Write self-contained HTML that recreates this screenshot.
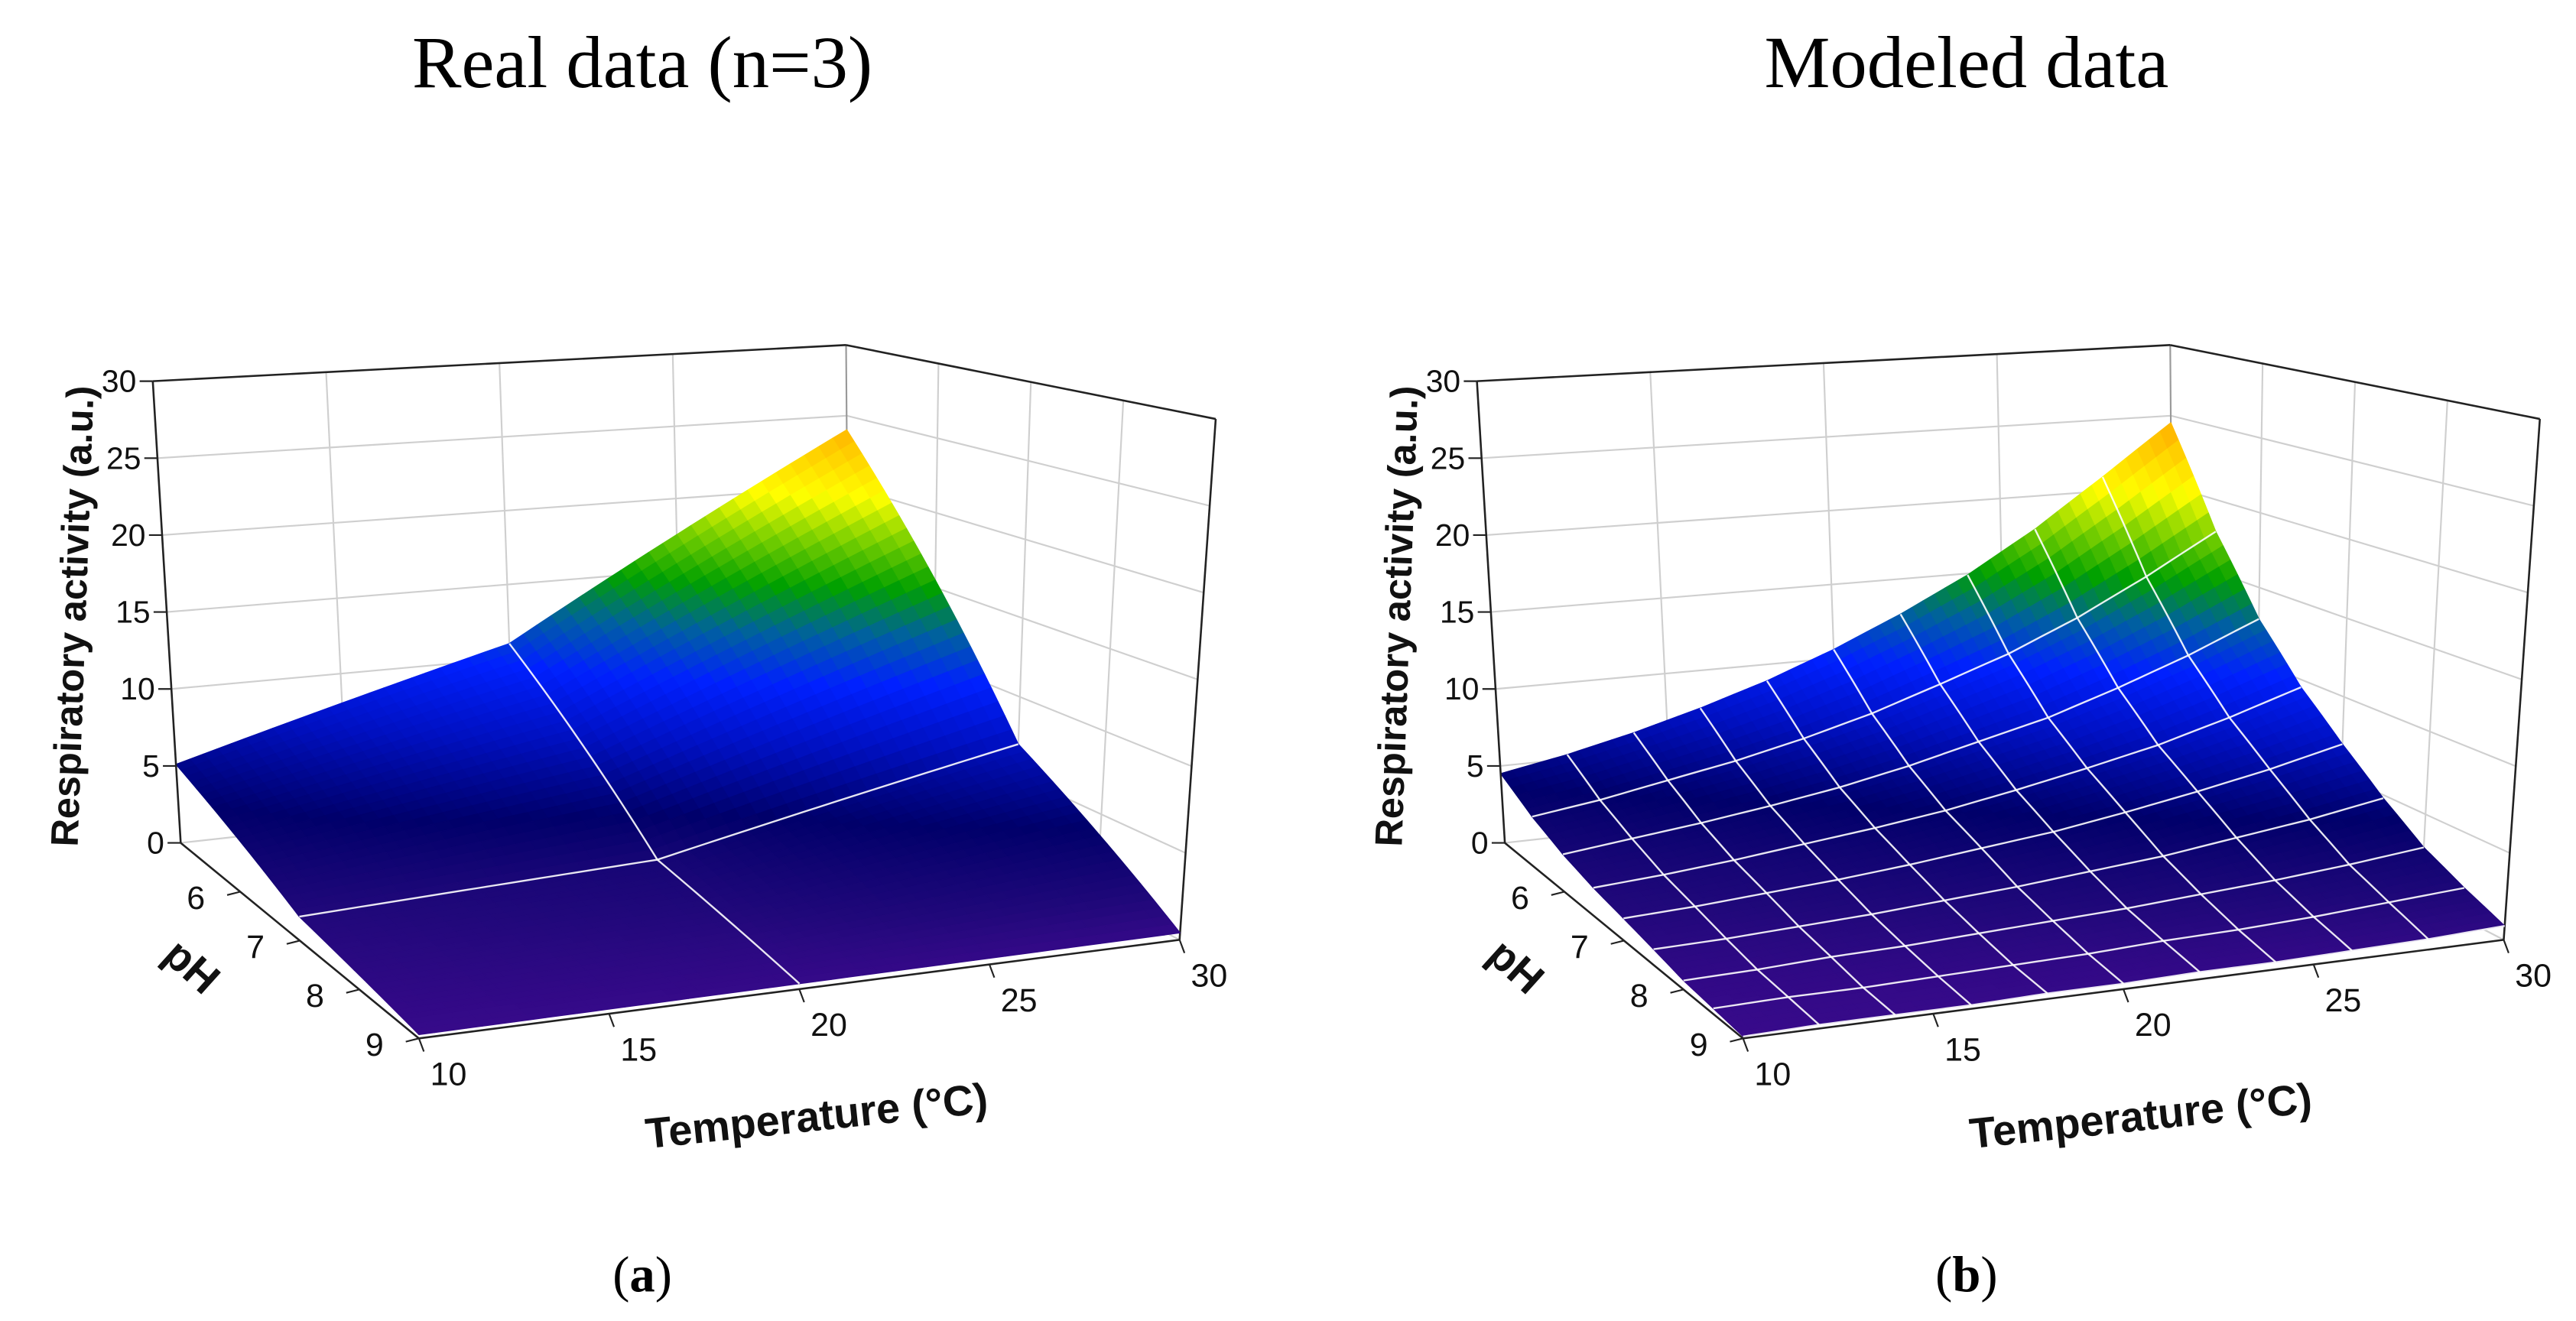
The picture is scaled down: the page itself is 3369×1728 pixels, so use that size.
<!DOCTYPE html>
<html><head><meta charset="utf-8">
<style>
html,body{margin:0;padding:0;background:#fff;}
svg{display:block;}
text{font-family:"Liberation Sans",Arial,sans-serif;}
.serif{font-family:"Liberation Serif","Times New Roman",serif;}
</style></head>
<body>
<svg id="fig" xmlns="http://www.w3.org/2000/svg" width="3369" height="1728" viewBox="0 0 1568 804" preserveAspectRatio="none">
  <rect x="0" y="0" width="1568" height="804" fill="#fff"/>
  <text class="serif" x="391" y="53" font-size="45" text-anchor="middle" fill="#000">Real data (n=3)</text>
  <text class="serif" x="1197" y="53" font-size="45" text-anchor="middle" fill="#000">Modeled data</text>
  <text class="serif" x="391" y="786" font-size="31" text-anchor="middle" fill="#000">(<tspan font-weight="bold">a</tspan>)</text>
  <text class="serif" x="1197" y="786" font-size="31" text-anchor="middle" fill="#000">(<tspan font-weight="bold">b</tspan>)</text>
  <g id="chartA"></g>
  <g id="chartB"></g>
</svg>
<script>
// ---- data ----
const zTicks = [0, 5, 10, 15, 20, 25, 30];
const phTicks = [6, 7, 8, 9];
const tempTicks = [10, 15, 20, 25, 30];

const realTemps = [10, 20, 30];
const realPH = [5, 7, 9];
const realValues = [
  [5.1, 11.0, 24.0],
  [1.4, 2.3, 7.0],
  [0.2, 0.3, 0.4]
];

const modelTemps = [10, 12, 14, 16, 18, 20, 22, 24, 26, 28, 30];
const modelPH = [5, 5.5, 6, 6.5, 7, 7.5, 8, 8.5, 9];
const modelValues = [
  [4.5, 5.3, 6.3, 7.5, 8.9, 10.6, 12.6, 14.9, 17.7, 21.0, 24.5],
  [3.2, 3.8, 4.6, 5.4, 6.4, 7.6, 9.1, 10.7, 12.7, 15.1, 17.8],
  [2.3, 2.8, 3.3, 3.9, 4.6, 5.5, 6.6, 7.7, 9.2, 10.9, 12.9],
  [1.7, 2.0, 2.4, 2.9, 3.4, 4.0, 4.8, 5.7, 6.7, 8.0, 9.5],
  [1.3, 1.5, 1.8, 2.1, 2.5, 3.0, 3.5, 4.2, 5.0, 5.9, 7.0],
  [0.9, 1.0, 1.2, 1.4, 1.7, 2.0, 2.4, 2.8, 3.4, 4.0, 4.8],
  [0.5, 0.6, 0.8, 0.9, 1.1, 1.3, 1.5, 1.8, 2.1, 2.5, 3.0],
  [0.3, 0.4, 0.4, 0.5, 0.6, 0.7, 0.9, 1.0, 1.2, 1.5, 1.8],
  [0.1, 0.2, 0.2, 0.2, 0.3, 0.3, 0.4, 0.4, 0.5, 0.6, 0.8]
];

const NS = "http://www.w3.org/2000/svg";
const cmapStops = [[0,[58,10,140]],[1.5,[32,8,122]],[4,[0,0,106]],[7,[0,16,192]],[10,[0,32,255]],[12.5,[0,96,160]],[15,[0,160,0]],[18,[144,216,0]],[20,[255,255,0]],[25,[255,160,0]],[30,[255,120,0]]];
function cmap(z){
  if (z <= cmapStops[0][0]) return 'rgb(' + cmapStops[0][1].join(',') + ')';
  for (let i = 1; i < cmapStops.length; i++) {
    if (z <= cmapStops[i][0]) {
      const a = cmapStops[i-1], b = cmapStops[i];
      const f = (z - a[0]) / (b[0] - a[0]);
      const c = a[1].map((v, k) => Math.round(v + (b[1][k] - v) * f));
      return 'rgb(' + c.join(',') + ')';
    }
  }
  return 'rgb(' + cmapStops[cmapStops.length-1][1].join(',') + ')';
}
function mk(tag, attrs){
  const e = document.createElementNS(NS, tag);
  for (const k in attrs) e.setAttribute(k, attrs[k]);
  return e;
}

function drawChart(g, ox, temps, phs, vals, sub, gridAll){
  const A=[110+ox,513], B=[255+ox,632], C=[718+ox,572], D=[517+ox,468];
  const At=[93+ox,232], Bt=[258+ox,287], Ct=[740+ox,255], Dt=[515+ox,210];
  function bil(P,Q,R,S,u,v){
    return [P[0]*(1-u)*(1-v)+Q[0]*u*(1-v)+R[0]*(1-u)*v+S[0]*u*v,
            P[1]*(1-u)*(1-v)+Q[1]*u*(1-v)+R[1]*(1-u)*v+S[1]*u*v];
  }
  function proj(T,p,z){
    const u=(T-10)/20, v=(p-5)/4, w=z/30;
    const f=bil(A,D,B,C,u,v), t=bil(At,Dt,Bt,Ct,u,v);
    return [f[0]+(t[0]-f[0])*w, f[1]+(t[1]-f[1])*w];
  }
  const P = (pt)=>pt[0].toFixed(2)+','+pt[1].toFixed(2);
  function line(p1,p2,stroke,sw,name){
    const l = mk('line',{x1:p1[0],y1:p1[1],x2:p2[0],y2:p2[1],stroke:stroke,'stroke-width':sw});
    
    
    g.appendChild(l);
  }
  const grey = '#cfcfcf';
  [15,20,25].forEach(T=>line(proj(T,5,0),proj(T,5,30),grey,1,'back-wall-gridline'));
  [5,10,15,20,25].forEach(z=>line(proj(10,5,z),proj(30,5,z),grey,1,'back-wall-gridline'));
  [6,7,8].forEach(p=>line(proj(30,p,0),proj(30,p,30),grey,1,'side-wall-gridline'));
  [5,10,15,20,25].forEach(z=>line(proj(30,5,z),proj(30,9,z),grey,1,'side-wall-gridline'));
  line(proj(30,5,0),proj(30,5,30),'#999',1,'back-corner-edge');
  line(proj(10,5,0),proj(30,5,0),grey,1,'floor-back-edge');
  line(proj(30,5,0),proj(30,9,0),grey,1,'floor-side-edge');
  line(proj(10,5,30),proj(30,5,30),'#222',1.2,'frame-top-back');
  line(proj(30,5,30),proj(30,9,30),'#222',1.2,'frame-top-side');
  line(proj(30,9,0),proj(30,9,30),'#222',1.2,'frame-right-edge');

  const nT=temps.length, nP=phs.length;
  function zAt(ti,pi,a,b){
    const z00=vals[pi][ti], z10=vals[pi][ti+1], z01=vals[pi+1][ti], z11=vals[pi+1][ti+1];
    return z00*(1-a)*(1-b)+z10*a*(1-b)+z01*(1-a)*b+z11*a*b;
  }
  const quads=[];
  for(let pi=0;pi<nP-1;pi++) for(let ti=0;ti<nT-1;ti++){
    for(let j=0;j<sub;j++) for(let i=0;i<sub;i++){
      const a0=i/sub,a1=(i+1)/sub,b0=j/sub,b1=(j+1)/sub;
      const T0=temps[ti]+(temps[ti+1]-temps[ti])*a0, T1=temps[ti]+(temps[ti+1]-temps[ti])*a1;
      const p0=phs[pi]+(phs[pi+1]-phs[pi])*b0, p1=phs[pi]+(phs[pi+1]-phs[pi])*b1;
      const z00=zAt(ti,pi,a0,b0), z10=zAt(ti,pi,a1,b0), z01=zAt(ti,pi,a0,b1), z11=zAt(ti,pi,a1,b1);
      const pts=[proj(T0,p0,z00),proj(T1,p0,z10),proj(T1,p1,z11),proj(T0,p1,z01)];
      const depth=proj((T0+T1)/2,(p0+p1)/2,0)[1];
      quads.push({pts:pts,z:(z00+z10+z01+z11)/4,depth:depth});
    }
  }
  quads.sort((a,b)=>a.depth-b.depth);
  const sg = mk('g',{});
  
  
  g.appendChild(sg);
  quads.forEach(q=>{
    const c=cmap(q.z);
    const poly=mk('polygon',{points:q.pts.map(P).join(' '),fill:c,stroke:c,'stroke-width':0.6,'stroke-linejoin':'round'});
    
    
    sg.appendChild(poly);
  });
  function meshLineT(ti){
    const pts=[];
    for(let pi=0;pi<nP-1;pi++) for(let j=0;j<=sub;j++){
      const b=j/sub, p=phs[pi]+(phs[pi+1]-phs[pi])*b;
      const z = ti<nT-1 ? zAt(ti,pi,0,b) : zAt(ti-1,pi,1,b);
      pts.push(proj(temps[ti],p,z));
    }
    return pts;
  }
  function meshLineP(pi){
    const pts=[];
    for(let ti=0;ti<nT-1;ti++) for(let i=0;i<=sub;i++){
      const a=i/sub, T=temps[ti]+(temps[ti+1]-temps[ti])*a;
      const z = pi<nP-1 ? zAt(ti,pi,a,0) : zAt(ti,pi-1,a,1);
      pts.push(proj(T,phs[pi],z));
    }
    return pts;
  }
  const tIdx = gridAll ? temps.map((_,i)=>i).slice(1,-1) : [1];
  const pIdx = gridAll ? phs.map((_,i)=>i).slice(1) : [1];
  tIdx.forEach(ti=>{
    const pl=mk('polyline',{points:meshLineT(ti).map(P).join(' '),fill:'none',stroke:'#ffffff','stroke-width':1.1,'stroke-opacity':0.9});
    
    
    g.appendChild(pl);
  });
  pIdx.forEach(pi=>{
    const pl=mk('polyline',{points:meshLineP(pi).map(P).join(' '),fill:'none',stroke:'#ffffff','stroke-width':1.1,'stroke-opacity':0.9});
    
    
    g.appendChild(pl);
  });

  line(proj(10,5,0),proj(10,5,30),'#222',1.2,'z-axis-line');
  line(proj(10,5,0),proj(10,9,0),'#222',1.2,'ph-axis-line');
  line(proj(10,9,0),proj(30,9,0),'#222',1.2,'temperature-axis-line');
  function txt(x,y,s,size,name,extra){
    const t=mk('text',Object.assign({x:x,y:y,'font-size':size,fill:'#111','dominant-baseline':'central'},extra||{}));
    t.textContent=s;
    
    
    g.appendChild(t);
    return t;
  }
  zTicks.forEach(z=>{
    const p=proj(10,5,z);
    line(p,[p[0]-8,p[1]],'#222',1,'z-tick');
    txt(p[0]-10,p[1],String(z),19,'z-tick-label',{'text-anchor':'end'});
  });
  phTicks.forEach(ph=>{
    const p=proj(10,ph,0);
    line(p,[p[0]-8,p[1]+2],'#222',1,'ph-tick');
    txt(p[0]-27,p[1]+4,String(ph),20,'ph-tick-label',{'text-anchor':'middle'});
  });
  tempTicks.forEach(T=>{
    const p=proj(T,9,0);
    line(p,[p[0]+3,p[1]+8],'#222',1,'temperature-tick');
    txt(p[0]+18,p[1]+22,String(T),20,'temperature-tick-label',{'text-anchor':'middle'});
  });
  txt(0,0,'Respiratory activity (a.u.)',23.5,'z-axis-title',{'text-anchor':'middle','font-weight':'bold',transform:'translate('+(44+ox)+',375) rotate(-88)'});
  txt(0,0,'pH',26,'ph-axis-title',{'text-anchor':'middle','font-weight':'bold',transform:'translate('+(117+ox)+',588) rotate(42)'});
  txt(0,0,'Temperature (°C)',26,'temperature-axis-title',{'text-anchor':'middle','font-weight':'bold',transform:'translate('+(497+ox)+',679) rotate(-6)'});
}
drawChart(document.getElementById('chartA'), 0, realTemps, realPH, realValues, 24, false);
drawChart(document.getElementById('chartB'), 806, modelTemps, modelPH, modelValues, 6, true);
</script>
</body></html>
